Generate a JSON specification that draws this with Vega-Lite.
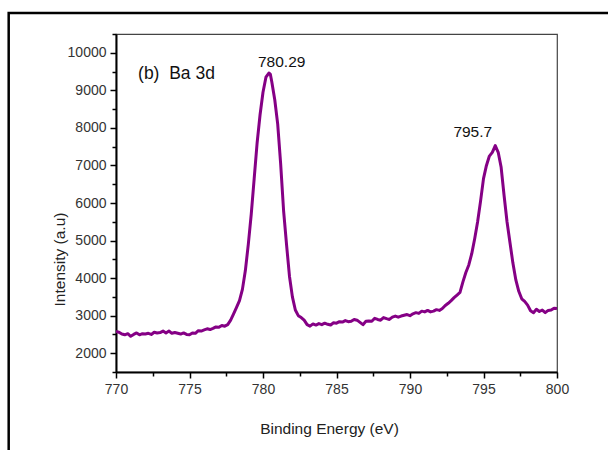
{
  "$schema": "https://vega.github.io/schema/vega-lite/v6.json",
  "width": 441,
  "height": 338,
  "autosize": {"type": "none"},
  "padding": {"left": 116, "top": 34, "right": 51, "bottom": 78},
  "background": "white",
  "config": {
    "view": {"stroke": "#444", "strokeWidth": 1.2},
    "font": "Liberation Sans"
  },
  "datasets": {
    "xps": [
      {"E": 770.0, "I": 2580}, {"E": 770.2, "I": 2560}, {"E": 770.4, "I": 2510}, {"E": 770.6, "I": 2490},
      {"E": 770.8, "I": 2520}, {"E": 771.0, "I": 2450}, {"E": 771.2, "I": 2500}, {"E": 771.4, "I": 2540},
      {"E": 771.6, "I": 2490}, {"E": 771.8, "I": 2520}, {"E": 772.0, "I": 2510}, {"E": 772.2, "I": 2530},
      {"E": 772.4, "I": 2500}, {"E": 772.6, "I": 2560}, {"E": 772.8, "I": 2540}, {"E": 773.0, "I": 2550},
      {"E": 773.2, "I": 2590}, {"E": 773.4, "I": 2540}, {"E": 773.6, "I": 2590}, {"E": 773.8, "I": 2530},
      {"E": 774.0, "I": 2550}, {"E": 774.2, "I": 2530}, {"E": 774.4, "I": 2510}, {"E": 774.6, "I": 2540},
      {"E": 774.8, "I": 2500}, {"E": 775.0, "I": 2490}, {"E": 775.2, "I": 2540}, {"E": 775.4, "I": 2530},
      {"E": 775.6, "I": 2600}, {"E": 775.8, "I": 2590}, {"E": 776.0, "I": 2620}, {"E": 776.2, "I": 2650},
      {"E": 776.4, "I": 2630}, {"E": 776.6, "I": 2660}, {"E": 776.8, "I": 2700}, {"E": 777.0, "I": 2690},
      {"E": 777.2, "I": 2740}, {"E": 777.4, "I": 2720}, {"E": 777.6, "I": 2760}, {"E": 777.8, "I": 2880},
      {"E": 778.0, "I": 3050}, {"E": 778.2, "I": 3220}, {"E": 778.4, "I": 3400}, {"E": 778.6, "I": 3700},
      {"E": 778.8, "I": 4200}, {"E": 779.0, "I": 4900}, {"E": 779.2, "I": 5700}, {"E": 779.4, "I": 6650},
      {"E": 779.6, "I": 7600}, {"E": 779.8, "I": 8350}, {"E": 780.0, "I": 8950}, {"E": 780.2, "I": 9350},
      {"E": 780.4, "I": 9460}, {"E": 780.5, "I": 9430}, {"E": 780.6, "I": 9220}, {"E": 780.8, "I": 8750},
      {"E": 781.0, "I": 8100}, {"E": 781.2, "I": 7050}, {"E": 781.4, "I": 5800}, {"E": 781.6, "I": 4900},
      {"E": 781.8, "I": 4050}, {"E": 782.0, "I": 3500}, {"E": 782.2, "I": 3150}, {"E": 782.4, "I": 3000},
      {"E": 782.6, "I": 2950}, {"E": 782.8, "I": 2880}, {"E": 783.0, "I": 2760}, {"E": 783.2, "I": 2720},
      {"E": 783.4, "I": 2780}, {"E": 783.6, "I": 2750}, {"E": 783.8, "I": 2790}, {"E": 784.0, "I": 2760},
      {"E": 784.2, "I": 2800}, {"E": 784.4, "I": 2770}, {"E": 784.6, "I": 2750}, {"E": 784.8, "I": 2810},
      {"E": 785.0, "I": 2800}, {"E": 785.2, "I": 2840}, {"E": 785.4, "I": 2830}, {"E": 785.6, "I": 2870},
      {"E": 785.8, "I": 2840}, {"E": 786.0, "I": 2850}, {"E": 786.2, "I": 2900}, {"E": 786.4, "I": 2880},
      {"E": 786.6, "I": 2820}, {"E": 786.8, "I": 2760}, {"E": 787.0, "I": 2850}, {"E": 787.2, "I": 2860},
      {"E": 787.4, "I": 2850}, {"E": 787.6, "I": 2930}, {"E": 787.8, "I": 2900}, {"E": 788.0, "I": 2880},
      {"E": 788.2, "I": 2950}, {"E": 788.4, "I": 2920}, {"E": 788.6, "I": 2900}, {"E": 788.8, "I": 2960},
      {"E": 789.0, "I": 2990}, {"E": 789.2, "I": 2960}, {"E": 789.4, "I": 2990}, {"E": 789.6, "I": 3010},
      {"E": 789.8, "I": 3030}, {"E": 790.0, "I": 3000}, {"E": 790.2, "I": 3050}, {"E": 790.4, "I": 3080},
      {"E": 790.6, "I": 3060}, {"E": 790.8, "I": 3120}, {"E": 791.0, "I": 3100}, {"E": 791.2, "I": 3140},
      {"E": 791.4, "I": 3100}, {"E": 791.6, "I": 3120}, {"E": 791.8, "I": 3160}, {"E": 792.0, "I": 3140},
      {"E": 792.2, "I": 3190}, {"E": 792.4, "I": 3270}, {"E": 792.6, "I": 3330}, {"E": 792.8, "I": 3400},
      {"E": 793.0, "I": 3480}, {"E": 793.2, "I": 3550}, {"E": 793.4, "I": 3620}, {"E": 793.6, "I": 3900},
      {"E": 793.8, "I": 4150}, {"E": 794.0, "I": 4350}, {"E": 794.2, "I": 4650}, {"E": 794.4, "I": 5050},
      {"E": 794.6, "I": 5500}, {"E": 794.8, "I": 6050}, {"E": 795.0, "I": 6650}, {"E": 795.2, "I": 7000},
      {"E": 795.4, "I": 7250}, {"E": 795.6, "I": 7350}, {"E": 795.8, "I": 7530}, {"E": 796.0, "I": 7350},
      {"E": 796.2, "I": 6950}, {"E": 796.4, "I": 6200}, {"E": 796.6, "I": 5500}, {"E": 796.8, "I": 4950},
      {"E": 797.0, "I": 4400}, {"E": 797.2, "I": 3950}, {"E": 797.4, "I": 3650}, {"E": 797.6, "I": 3450},
      {"E": 797.8, "I": 3380}, {"E": 798.0, "I": 3280}, {"E": 798.2, "I": 3130}, {"E": 798.4, "I": 3080},
      {"E": 798.6, "I": 3170}, {"E": 798.8, "I": 3110}, {"E": 799.0, "I": 3150}, {"E": 799.2, "I": 3080},
      {"E": 799.4, "I": 3140}, {"E": 799.6, "I": 3150}, {"E": 799.8, "I": 3200}, {"E": 800.0, "I": 3190}
    ],
    "label_left": [
      {"E": 771.5, "I": 9435, "text": "(b)\u00a0 Ba 3d"}
    ],
    "label_peaks": [
      {"E": 781.27, "I": 9763, "text": "780.29"},
      {"E": 794.27, "I": 7891, "text": "795.7"}
    ]
  },
  "resolve": {"axis": {"x": "independent", "y": "independent"}},
  "layer": [
    {
      "encoding": {
        "x": {
          "field": "E", "type": "quantitative",
          "scale": {"domain": [770, 800], "nice": false, "zero": false},
          "axis": {
            "title": "Binding Energy (eV)",
            "values": [770, 772.5, 775, 777.5, 780, 782.5, 785, 787.5, 790, 792.5, 795, 797.5, 800],
            "labelExpr": "datum.value % 5 === 0 ? format(datum.value, 'd') : ''",
            "labelOverlap": false,
            "grid": false,
            "domainColor": "black", "domainWidth": 2,
            "tickColor": "black", "tickWidth": 1.5,
            "tickSize": {"expr": "datum.value % 5 === 0 ? 6 : 4"},
            "labelFont": "Liberation Sans", "labelFontSize": 14, "labelColor": "#333", "labelPadding": 4,
            "labelFlush": false,
            "titleFont": "Liberation Sans", "titleFontSize": 15.5, "titleFontWeight": "normal", "titleColor": "#222",
            "titleX": 213, "titleY": 56, "titleBaseline": "middle", "titleAlign": "center"
          }
        },
        "y": {
          "field": "I", "type": "quantitative",
          "scale": {"domain": [1500, 10500], "nice": false, "zero": false},
          "axis": {
            "title": "Intensity (a.u)",
            "values": [1500, 2000, 2500, 3000, 3500, 4000, 4500, 5000, 5500, 6000, 6500, 7000, 7500, 8000, 8500, 9000, 9500, 10000, 10500],
            "labelExpr": "datum.value % 1000 === 0 ? format(datum.value, 'd') : ''",
            "labelOverlap": false,
            "grid": false,
            "domainColor": "black", "domainWidth": 2,
            "tickColor": "black", "tickWidth": 1.5,
            "tickSize": {"expr": "datum.value % 1000 === 0 ? 6 : 4"},
            "labelFont": "Liberation Sans", "labelFontSize": 14, "labelColor": "#333", "labelPadding": 4,
            "labelFlush": false,
            "titleFont": "Liberation Sans", "titleFontSize": 15.5, "titleFontWeight": "normal", "titleColor": "#222",
            "titleX": -57, "titleY": 225, "titleAngle": -90, "titleBaseline": "middle", "titleAlign": "center"
          }
        }
      },
      "layer": [
        {
          "data": {"name": "xps"},
          "mark": {"type": "line", "color": "#850085", "strokeWidth": 3, "strokeJoin": "round", "clip": true}
        },
        {
          "data": {"name": "label_left"},
          "mark": {"type": "text", "font": "Liberation Sans", "color": "#111", "baseline": "middle", "align": "left", "fontSize": 17.5},
          "encoding": {"text": {"field": "text"}}
        },
        {
          "data": {"name": "label_peaks"},
          "mark": {"type": "text", "font": "Liberation Sans", "color": "#111", "baseline": "middle", "align": "center", "fontSize": 15.5},
          "encoding": {"text": {"field": "text"}}
        }
      ]
    },
    {
      "data": {"values": [{}]},
      "mark": {"type": "rect", "filled": false, "stroke": "black", "strokeWidth": 2.5, "clip": false},
      "encoding": {
        "x": {"datum": 762.7, "type": "quantitative", "axis": null},
        "x2": {"datum": 803.7},
        "y": {"datum": 11059, "type": "quantitative", "axis": null},
        "y2": {"datum": -843}
      }
    }
  ]
}
